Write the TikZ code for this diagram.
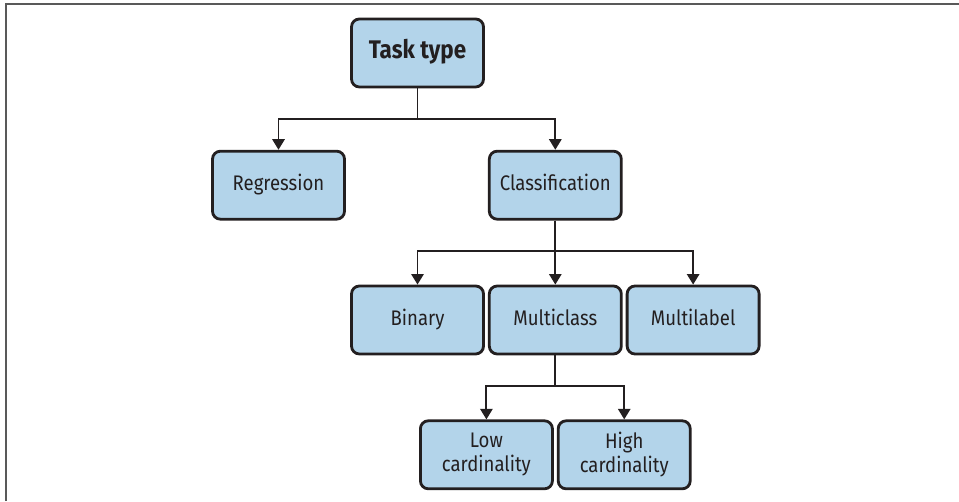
\documentclass[tikz,border=0pt]{standalone}
\usepackage{fontspec}
\setmainfont{Fira Sans}[FakeStretch=0.88]
\usepackage{tikz}
\usetikzlibrary{positioning, arrows.meta, calc}
\definecolor{boxblue}{HTML}{B3D4EA}
\definecolor{inkblack}{HTML}{231F20}

\begin{document}
\begin{tikzpicture}[
    node distance=1.28cm,
    taskbox/.style={rectangle, rounded corners=4.5pt, draw=inkblack, line width=1.6pt, fill=boxblue, minimum width=2.64cm, minimum height=1.36cm, align=center, text=inkblack, text height=1.55ex, text depth=0.45ex, font=\fontsize{12}{13.6}\selectfont},
    twoline/.style={text height=, text depth=},
    arrow/.style={-{Triangle[width=7pt,length=6pt]}, line width=1.1pt, draw=inkblack}
]
    \useasboundingbox (0,0) rectangle (19.18,10.02);
    \draw[gray!70!black, line width=1.2pt] (0.12,0) -- (0.12,9.94) -- (19.18,9.94);

    \node[taskbox, font=\fontsize{14.5}{16}\selectfont\bfseries] (task) at (8.35,8.96) {Task type};
    \node[taskbox] (binary) at (8.35,3.62) {Binary};
    \node[taskbox, right=0.06cm of binary] (multiclass) {Multiclass};
    \node[taskbox, right=0.06cm of multiclass] (multilabel) {Multilabel};
    \node[taskbox, above=of multiclass] (classif) {Classification};
    \node[taskbox, left=2.84cm of classif] (regr) {Regression};
    \node[taskbox, twoline, below=1.28cm of binary.south east, xshift=0.03cm] (lowcard) {Low\\cardinality};
    \node[taskbox, twoline, right=0.06cm of lowcard] (highcard) {High\\cardinality};

    \draw[arrow] (task.south) -- ++(0,-0.62) -| (regr);
    \draw[arrow] (task.south) -- ++(0,-0.62) -| (classif);
    \draw[arrow] (classif) -- (multiclass);
    \draw[arrow] (classif.south) -- ++(0,-0.6) -| (binary);
    \draw[arrow] (classif.south) -- ++(0,-0.6) -| (multilabel);
    \draw[arrow] (multiclass.south) -- ++(0,-0.62) -| (lowcard);
    \draw[arrow] (multiclass.south) -- ++(0,-0.62) -| (highcard);
\end{tikzpicture}
\end{document}
